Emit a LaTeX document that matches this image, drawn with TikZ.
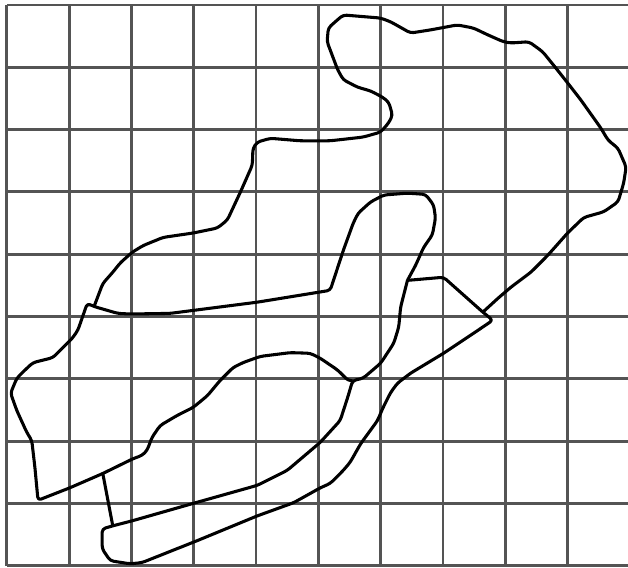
\documentclass[tikz,border=0pt]{standalone}
\begin{document}
\begin{tikzpicture}[x=1cm,y=1cm,
  gridline/.style={draw=black!67, line width=1.3pt},
  zoneline/.style={draw=black, line width=1.4pt, line join=round, rounded corners=1.5pt}]
\useasboundingbox (-0.11,-0.03) rectangle (9.97,9.08);
\draw[gridline] (0,0) grid (10,9);
\coordinate (notch) at (1.29,4.21);
\coordinate (fork) at (1.40,4.16);
\coordinate (corner) at (6.43,4.58);
\coordinate (meet) at (7.64,4.07);
\coordinate (tip) at (7.80,3.94);
\coordinate (joint) at (5.55,2.97);
\coordinate (upper) at (1.54,1.48);
\coordinate (lower) at (1.70,0.64);
% outer zone
\draw[zoneline] (fork) -- (1.54,4.53) -- (1.70,4.71) -- (1.82,4.86) -- (2.01,5.03) -- (2.19,5.14)
  -- (2.51,5.27) -- (2.99,5.34) -- (3.38,5.42) -- (3.54,5.55) -- (3.75,6.00) -- (3.94,6.43)
  -- (3.95,6.70) -- (4.02,6.80) -- (4.23,6.86) -- (4.71,6.82) -- (5.19,6.82) -- (5.72,6.88)
  -- (6.00,6.96) -- (6.13,7.11) -- (6.19,7.23) -- (6.13,7.44) -- (6.03,7.52) -- (5.84,7.62)
  -- (5.63,7.68) -- (5.40,7.80) -- (5.31,7.96) -- (5.14,8.41) -- (5.16,8.63) -- (5.27,8.73)
  -- (5.40,8.84) -- (6.00,8.79) -- (6.16,8.73) -- (6.48,8.55) -- (6.80,8.60) -- (7.23,8.68)
  -- (7.49,8.63) -- (7.72,8.52) -- (7.97,8.41) -- (8.09,8.39) -- (8.38,8.41) -- (8.60,8.25)
  -- (8.81,7.99) -- (9.00,7.75) -- (9.21,7.48) -- (9.53,7.03) -- (9.65,6.83) -- (9.81,6.70)
  -- (9.94,6.40) -- (9.90,6.14) -- (9.81,5.84) -- (9.58,5.68) -- (9.26,5.59) -- (9.00,5.34)
  -- (8.68,4.98) -- (8.41,4.71) -- (8.09,4.47) -- (7.88,4.29) -- (meet);
% lower tongue with the wedge
\draw[zoneline] (corner) -- (7.01,4.63) -- (meet) -- (tip) -- (7.49,3.73) -- (7.01,3.41)
  -- (6.48,3.09) -- (6.27,2.93) -- (6.16,2.78) -- (6.03,2.52) -- (5.95,2.33) -- (5.68,1.96)
  -- (5.51,1.66) -- (5.40,1.53) -- (5.19,1.32) -- (5.03,1.25) -- (4.87,1.16) -- (4.60,1.01)
  -- (4.02,0.80) -- (3.05,0.40) -- (2.17,0.05) -- (1.98,0.03) -- (1.66,0.08) -- (1.53,0.27)
  -- (1.53,0.59) -- (lower) -- (2.01,0.72) -- (2.99,1.00) -- (4.02,1.29) -- (4.50,1.53)
  -- (5.03,1.98) -- (5.35,2.33) -- (5.47,2.70) -- (joint) -- (5.72,3.01) -- (6.00,3.25)
  -- (6.21,3.57) -- (6.29,3.83) -- (6.32,4.15) -- (corner);
% middle zone
\draw[zoneline] (corner) -- (6.56,4.82) -- (6.69,5.11) -- (6.83,5.31) -- (6.88,5.58)
  -- (6.85,5.79) -- (6.72,5.96) -- (6.43,5.98) -- (6.05,5.95) -- (5.84,5.84) -- (5.64,5.66)
  -- (5.56,5.50) -- (5.40,5.06) -- (5.19,4.42) -- (4.02,4.23) -- (2.62,4.05) -- (1.98,4.04)
  -- (1.78,4.05) -- (fork) -- (notch) -- (1.14,3.78) -- (1.05,3.65) -- (0.74,3.34)
  -- (0.42,3.26) -- (0.29,3.14) -- (0.16,3.01) -- (0.06,2.77) -- (0.16,2.49) -- (0.32,2.14)
  -- (0.40,2.01) -- (0.45,1.58) -- (0.50,1.05) -- (1.01,1.25) -- (upper) -- (2.03,1.72)
  -- (2.17,1.77) -- (2.25,1.85) -- (2.33,2.06) -- (2.46,2.25) -- (2.73,2.41) -- (2.99,2.54)
  -- (3.22,2.73) -- (3.42,2.97) -- (3.63,3.18) -- (3.79,3.26) -- (4.07,3.36) -- (4.55,3.42)
  -- (4.87,3.41) -- (5.03,3.33) -- (5.31,3.14) -- (5.48,2.97) -- (joint);
\draw[zoneline] (upper) -- (lower);
\end{tikzpicture}
\end{document}
